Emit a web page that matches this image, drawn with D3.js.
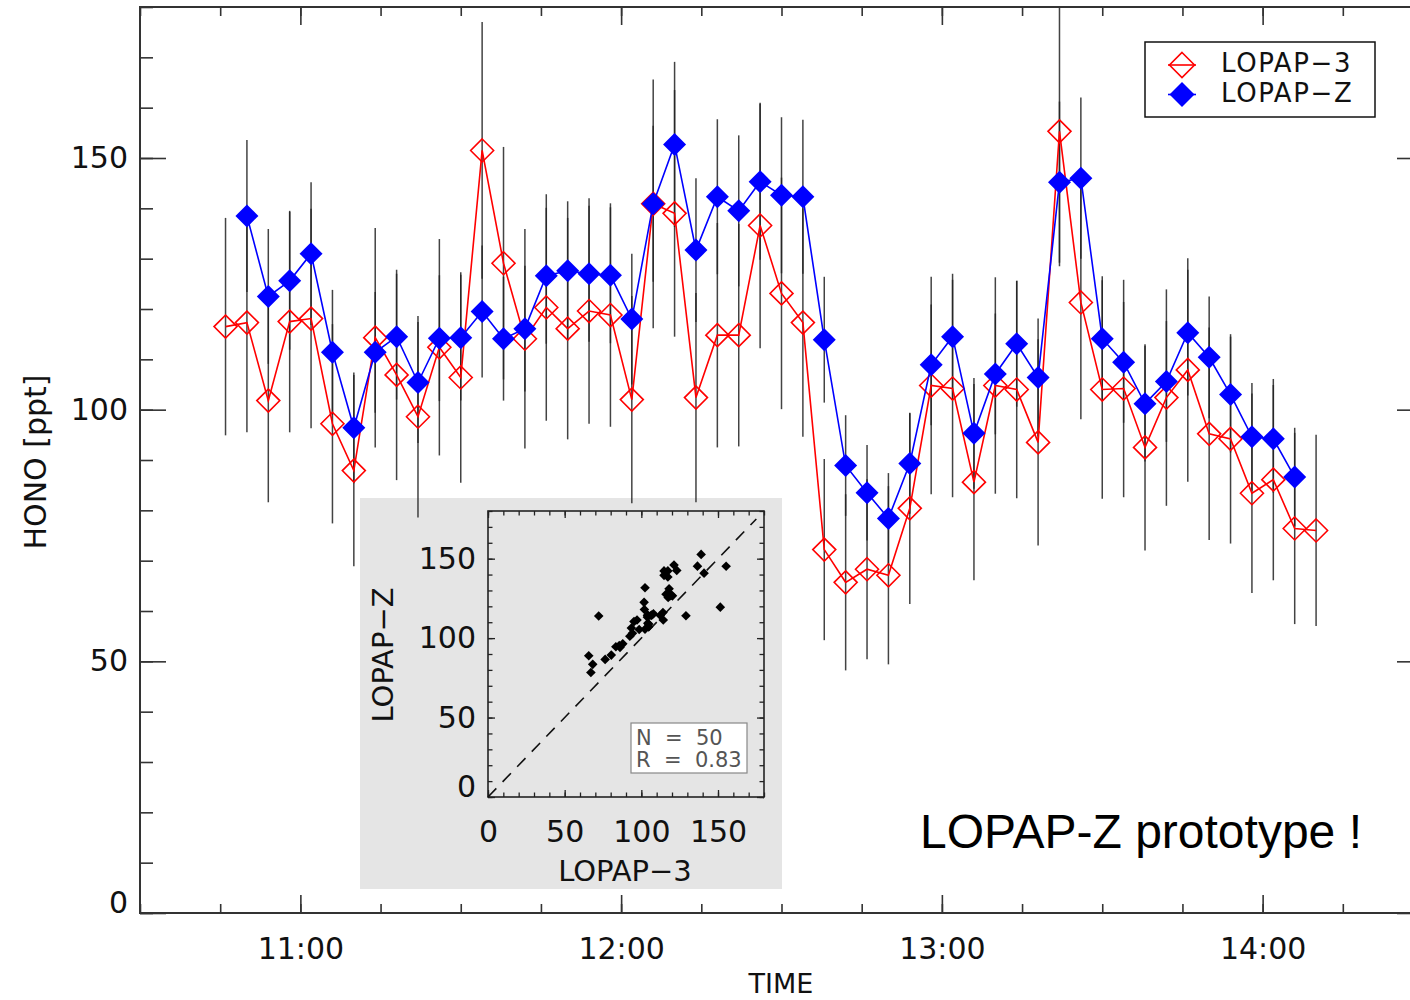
<!DOCTYPE html>
<html lang="en">
<head>
<meta charset="UTF-8">
<title>HONO - LOPAP-3 vs LOPAP-Z</title>
<script src="https://d3js.org/d3.v7.min.js"></script>
<style>
  body { margin: 0; background: #fff; }
  svg { display: block; }
  text { font-family: "DejaVu Sans", sans-serif; fill: #111; }
  .axis path { display: none; }
  .axis line { stroke: #333; stroke-width: 1.6; }
  .axis text { font-size: 30px; font-family: "DejaVu Sans", sans-serif; fill: #111; }
  .inset .axis line { stroke: #222; stroke-width: 1.3; }
</style>
</head>
<body>
<div id="chart"></div>
<script>
// measurement times (4 min steps)
var times = ["10:46","10:50","10:54","10:58","11:02","11:06","11:10","11:14","11:18","11:22",
             "11:26","11:30","11:34","11:38","11:42","11:46","11:50","11:54","11:58","12:02",
             "12:06","12:10","12:14","12:18","12:22","12:26","12:30","12:34","12:38","12:42",
             "12:46","12:50","12:54","12:58","13:02","13:06","13:10","13:14","13:18","13:22",
             "13:26","13:30","13:34","13:38","13:42","13:46","13:50","13:54","13:58","14:02",
             "14:06","14:10"];
// HONO [ppt]
var lopap3 = [116.5, 117.3, 101.8, 117.5, 118.1, 97.2, 87.9, 114.3, 106.9, 98.6,
              112.4, 106.4, 151.5, 129.1, 114.1, 120.3, 116.1, 119.6, 118.8, 102.0,
              140.9, 139.0, 102.4, 114.8, 114.8, 136.6, 123.1, 117.3, 72.2, 65.7,
              68.3, 67.1, 80.4, 104.8, 104.2, 85.6, 104.8, 104.0, 93.5, 155.3,
              121.3, 104.0, 104.2, 92.5, 102.4, 107.9, 95.2, 94.2, 83.4, 86.1,
              76.4, 76.0];
var lopapZ = [null, 138.5, 122.5, 125.6, 131.0, 111.4, 96.4, 111.4, 114.5, 105.4,
              114.2, 114.3, 119.5, 114.1, 116.1, 126.6, 127.6, 127.0, 126.7, 118.0,
              140.9, 152.7, 131.7, 142.3, 139.5, 145.3, 142.6, 142.3, 113.9, 88.9,
              83.5, 78.4, 89.3, 108.9, 114.5, 95.3, 107.1, 113.1, 106.4, 145.2,
              146.0, 114.1, 109.4, 101.2, 105.6, 115.3, 110.4, 103.0, 94.6, 94.2,
              86.6, null];
// error bar half widths [ppt]
var err3 = [21.6, 21.8, 20.2, 22.0, 21.8, 19.8, 19.0, 21.8, 20.9, 20.0,
            21.5, 20.9, 25.5, 23.1, 21.8, 22.5, 22.0, 22.4, 22.2, 20.6,
            24.7, 24.5, 20.8, 22.3, 22.1, 24.4, 23.0, 22.7, 18.0, 17.5,
            17.9, 17.7, 19.0, 21.6, 21.6, 19.5, 21.5, 21.6, 20.5, 26.8,
            23.2, 21.7, 21.6, 20.5, 21.5, 22.2, 21.1, 20.8, 19.8, 20.0,
            19.0, 19.0];
var errZ = [null, 15.1, 13.4, 13.7, 14.2, 12.4, 11.0, 12.0, 12.5, 12.0,
            12.5, 12.5, 13.1, 12.3, 12.5, 13.5, 13.8, 13.5, 13.5, 13.0,
            15.5, 16.4, 14.3, 15.4, 15.0, 15.5, 15.5, 15.3, 12.5, 10.0,
            9.5, 9.0, 10.0, 12.0, 12.5, 11.0, 12.0, 12.5, 11.7, 16.0,
            16.0, 12.4, 12.0, 11.5, 12.0, 12.5, 12.1, 11.5, 10.7, 10.7,
            9.8, null];

var hourTicks = ["11:00", "12:00", "13:00", "14:00"];
var yTicks = [0, 50, 100, 150];
var insetTicks = [0, 50, 100, 150];
var seriesNames = ["LOPAP\u22123", "LOPAP\u2212Z"];
var statsLines = ["N  =  50", "R  =  0.83"];

var W = 1410, H = 1000;
var parse = d3.timeParse("%H:%M");

var svg = d3.select("#chart").append("svg")
    .attr("width", W)
    .attr("height", H);

var x = d3.scaleTime()
    .domain([parse("10:30"), parse("14:30")])
    .range([140, 1423]);
var y = d3.scaleLinear()
    .domain([0, 180])
    .range([913, 7]);

function diamond(r) {
    return "M0," + (-r) + "L" + r + ",0L0," + r + "L" + (-r) + ",0Z";
}

// IDL lifts the "0" label off the corner
function liftZero(g) {
    g.selectAll(".tick text")
        .filter(function (d) { return d === 0; })
        .attr("y", -10);
}

// inset background first, the main data sits on top of it
svg.append("rect")
    .attr("x", 360).attr("y", 498)
    .attr("width", 422).attr("height", 391)
    .attr("fill", "#e5e5e5");

svg.append("clipPath").attr("id", "plotClip")
    .append("rect")
    .attr("x", 140).attr("y", 7)
    .attr("width", 1283).attr("height", 906);

var plot = svg.append("g").attr("clip-path", "url(#plotClip)");

var rows = times.map(function (t, i) {
    return { t: parse(t), a: lopap3[i], ea: err3[i], z: lopapZ[i], ez: errZ[i] };
});

// error bars
var bars = [];
rows.forEach(function (d) {
    bars.push({ t: d.t, lo: d.a - d.ea, hi: d.a + d.ea });
    if (d.z != null) bars.push({ t: d.t, lo: d.z - d.ez, hi: d.z + d.ez });
});
plot.selectAll(".ebar")
    .data(bars)
    .enter()
    .append("line")
    .attr("class", "ebar")
    .attr("x1", function (d) { return x(d.t); })
    .attr("x2", function (d) { return x(d.t); })
    .attr("y1", function (d) { return y(d.lo); })
    .attr("y2", function (d) { return y(d.hi); })
    .attr("stroke", "#222")
    .attr("stroke-opacity", 0.85)
    .attr("stroke-width", 1.5);

// LOPAP-3 (open diamonds)
var line3 = d3.line()
    .x(function (d) { return x(d.t); })
    .y(function (d) { return y(d.a); });
plot.append("path")
    .datum(rows)
    .attr("d", line3)
    .attr("fill", "none")
    .attr("stroke", "#ff0000")
    .attr("stroke-width", 1.6);
plot.selectAll(".m3")
    .data(rows)
    .enter()
    .append("path")
    .attr("class", "m3")
    .attr("d", diamond(11.5))
    .attr("transform", function (d) { return "translate(" + x(d.t) + "," + y(d.a) + ")"; })
    .attr("fill", "none")
    .attr("stroke", "#ff0000")
    .attr("stroke-width", 1.6);

// LOPAP-Z (filled diamonds)
var lineZ = d3.line()
    .defined(function (d) { return d.z != null; })
    .x(function (d) { return x(d.t); })
    .y(function (d) { return y(d.z); });
plot.append("path")
    .datum(rows)
    .attr("d", lineZ)
    .attr("fill", "none")
    .attr("stroke", "#0000ff")
    .attr("stroke-width", 1.6);
plot.selectAll(".mz")
    .data(rows.filter(function (d) { return d.z != null; }))
    .enter()
    .append("path")
    .attr("class", "mz")
    .attr("d", diamond(11.5))
    .attr("transform", function (d) { return "translate(" + x(d.t) + "," + y(d.z) + ")"; })
    .attr("fill", "#0000ff");

// main axes
var minorY = d3.range(0, 181, 10);
var quarter = d3.timeMinute.every(15).range(parse("10:30"), parse("14:31"));
var hours = hourTicks.map(parse);

svg.append("g").attr("class", "axis")
    .attr("transform", "translate(140,0)")
    .call(d3.axisLeft(y).tickValues(minorY).tickSizeInner(-13).tickSizeOuter(0).tickFormat(""));
svg.append("g").attr("class", "axis")
    .attr("transform", "translate(140,0)")
    .call(d3.axisLeft(y).tickValues(yTicks).tickSizeInner(-26).tickSizeOuter(0).tickPadding(12))
    .call(liftZero);
svg.append("g").attr("class", "axis")
    .attr("transform", "translate(1423,0)")
    .call(d3.axisRight(y).tickValues(minorY).tickSizeInner(-13).tickSizeOuter(0).tickFormat(""));
svg.append("g").attr("class", "axis")
    .attr("transform", "translate(1423,0)")
    .call(d3.axisRight(y).tickValues(yTicks).tickSizeInner(-26).tickSizeOuter(0).tickFormat(""));

svg.append("g").attr("class", "axis")
    .attr("transform", "translate(0,913)")
    .call(d3.axisBottom(x).tickValues(quarter).tickSizeInner(-9).tickSizeOuter(0).tickFormat(""));
svg.append("g").attr("class", "axis")
    .attr("transform", "translate(0,913)")
    .call(d3.axisBottom(x).tickValues(hours).tickSizeInner(-18).tickSizeOuter(0)
        .tickPadding(25).tickFormat(d3.timeFormat("%H:%M")));
svg.append("g").attr("class", "axis")
    .attr("transform", "translate(0,7)")
    .call(d3.axisTop(x).tickValues(quarter).tickSizeInner(-9).tickSizeOuter(0).tickFormat(""));
svg.append("g").attr("class", "axis")
    .attr("transform", "translate(0,7)")
    .call(d3.axisTop(x).tickValues(hours).tickSizeInner(-18).tickSizeOuter(0).tickFormat(""));

svg.append("rect")
    .attr("x", 140).attr("y", 7)
    .attr("width", 1283).attr("height", 906)
    .attr("fill", "none")
    .attr("stroke", "#333")
    .attr("stroke-width", 2);

svg.append("text")
    .attr("transform", "translate(46,462) rotate(-90)")
    .attr("text-anchor", "middle")
    .style("font-size", "30px")
    .text("HONO [ppt]");
svg.append("text")
    .attr("x", 781).attr("y", 993)
    .attr("text-anchor", "middle")
    .style("font-size", "27px")
    .text("TIME");

// legend
var legend = svg.append("g");
legend.append("rect")
    .attr("x", 1145).attr("y", 42)
    .attr("width", 230).attr("height", 75)
    .attr("fill", "#fff")
    .attr("stroke", "#111")
    .attr("stroke-width", 1.5);
var legItems = legend.selectAll(".leg")
    .data(seriesNames)
    .enter()
    .append("g")
    .attr("class", "leg")
    .attr("transform", function (d, i) { return "translate(1182," + (65 + i * 29.5) + ")"; });
legItems.append("line")
    .attr("x1", -14).attr("x2", 14)
    .attr("stroke", function (d, i) { return i === 0 ? "#ff0000" : "#0000ff"; })
    .attr("stroke-width", 1.6);
legItems.append("path")
    .attr("d", diamond(12.5))
    .attr("fill", function (d, i) { return i === 0 ? "none" : "#0000ff"; })
    .attr("stroke", function (d, i) { return i === 0 ? "#ff0000" : "none"; })
    .attr("stroke-width", 1.6);
legItems.append("text")
    .attr("x", 39).attr("y", 7)
    .style("font-size", "26px")
    .style("letter-spacing", "1.6px")
    .text(function (d) { return d; });

// annotation
svg.append("text")
    .attr("x", 920).attr("y", 848)
    .style("font-family", "'Liberation Sans', Arial, sans-serif")
    .style("font-size", "48px")
    .style("fill", "#000")
    .text("LOPAP-Z prototype !");

// inset scatter
var inset = svg.append("g").attr("class", "inset");
var xi = d3.scaleLinear().domain([0, 180]).range([488, 764]);
var yi = d3.scaleLinear().domain([0, 180]).range([797, 511]);
var minorI = d3.range(0, 181, 10);

inset.append("g").attr("class", "axis")
    .attr("transform", "translate(488,0)")
    .call(d3.axisLeft(yi).tickValues(minorI).tickSizeInner(-4.5).tickSizeOuter(0).tickFormat(""));
inset.append("g").attr("class", "axis")
    .attr("transform", "translate(488,0)")
    .call(d3.axisLeft(yi).tickValues(insetTicks).tickSizeInner(-7).tickSizeOuter(0).tickPadding(12))
    .call(liftZero);
inset.append("g").attr("class", "axis")
    .attr("transform", "translate(764,0)")
    .call(d3.axisRight(yi).tickValues(minorI).tickSizeInner(-4.5).tickSizeOuter(0).tickFormat(""));
inset.append("g").attr("class", "axis")
    .attr("transform", "translate(764,0)")
    .call(d3.axisRight(yi).tickValues(insetTicks).tickSizeInner(-7).tickSizeOuter(0).tickFormat(""));
inset.append("g").attr("class", "axis")
    .attr("transform", "translate(0,797)")
    .call(d3.axisBottom(xi).tickValues(minorI).tickSizeInner(-4.5).tickSizeOuter(0).tickFormat(""));
inset.append("g").attr("class", "axis")
    .attr("transform", "translate(0,797)")
    .call(d3.axisBottom(xi).tickValues(insetTicks).tickSizeInner(-7).tickSizeOuter(0).tickPadding(24));
inset.append("g").attr("class", "axis")
    .attr("transform", "translate(0,511)")
    .call(d3.axisTop(xi).tickValues(minorI).tickSizeInner(-4.5).tickSizeOuter(0).tickFormat(""));
inset.append("g").attr("class", "axis")
    .attr("transform", "translate(0,511)")
    .call(d3.axisTop(xi).tickValues(insetTicks).tickSizeInner(-7).tickSizeOuter(0).tickFormat(""));

inset.append("rect")
    .attr("x", 488).attr("y", 511)
    .attr("width", 276).attr("height", 286)
    .attr("fill", "none")
    .attr("stroke", "#222")
    .attr("stroke-width", 1.6);

inset.append("line")
    .attr("x1", xi(0)).attr("y1", yi(0))
    .attr("x2", xi(175)).attr("y2", yi(175))
    .attr("stroke", "#111")
    .attr("stroke-width", 1.6)
    .attr("stroke-dasharray", "12,9");

var pairs = rows.filter(function (d) { return d.z != null; });
inset.selectAll(".sp")
    .data(pairs)
    .enter()
    .append("path")
    .attr("class", "sp")
    .attr("d", diamond(4.8))
    .attr("transform", function (d) { return "translate(" + xi(d.a) + "," + yi(d.z) + ")"; })
    .attr("fill", "#000");

inset.append("rect")
    .attr("x", 631).attr("y", 723)
    .attr("width", 116).attr("height", 50)
    .attr("fill", "#fff")
    .attr("stroke", "#888")
    .attr("stroke-width", 1.2);
inset.selectAll(".stat")
    .data(statsLines)
    .enter()
    .append("text")
    .attr("class", "stat")
    .attr("x", 636)
    .attr("y", function (d, i) { return 745 + i * 22; })
    .style("font-size", "21px")
    .style("fill", "#555")
    .style("white-space", "pre")
    .text(function (d) { return d; });

inset.append("text")
    .attr("transform", "translate(393,655) rotate(-90)")
    .attr("text-anchor", "middle")
    .style("font-size", "29px")
    .text(seriesNames[1]);
inset.append("text")
    .attr("x", 625).attr("y", 881)
    .attr("text-anchor", "middle")
    .style("font-size", "29px")
    .text(seriesNames[0]);
</script>
</body>
</html>
